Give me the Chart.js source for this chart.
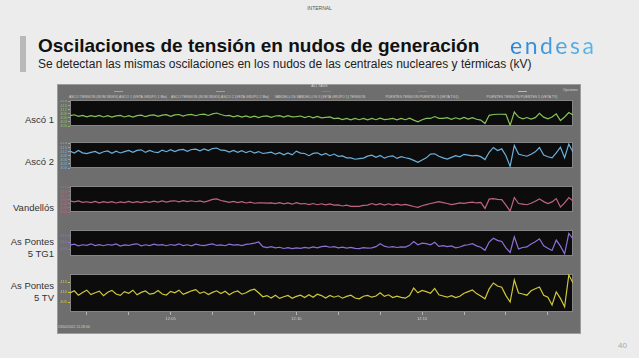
<!DOCTYPE html>
<html>
<head>
<meta charset="utf-8">
<script src="https://cdn.jsdelivr.net/npm/chart.js@4.4.1/dist/chart.umd.min.js"></script>
<style>
  body { margin:0; width:639px; height:358px; background:#ececec; position:relative; overflow:hidden;
         font-family:"Liberation Sans", Arial, sans-serif; }
  .abs { position:absolute; white-space:nowrap; }
  .side { left:0; width:54px; text-align:right; font-size:9.5px; line-height:12px; color:#333; }
  .leg { top:95px; font-size:3.5px; color:#cfcfcf; transform:translateX(-50%); }
  .dash { top:91px; width:9px; height:1px; }
  .panel { position:absolute; left:57px; }
</style>
</head>
<body>

<div class="abs" style="left:0;top:5px;width:639px;text-align:center;font-size:5px;color:#555">INTERNAL</div>
<div class="abs" style="left:20px;top:36px;width:6px;height:36px;background:#b9b9b9"></div>
<div class="abs" style="left:38px;top:35px;font-size:19px;font-weight:bold;color:#111">Oscilaciones de tensión en nudos de generación</div>
<div class="abs" style="left:38px;top:57px;font-size:12px;color:#222">Se detectan las mismas oscilaciones en los nudos de las centrales nucleares y térmicas (kV)</div>
<div class="abs" style="left:510px;top:31px;font-size:23px;font-family:Lato;font-weight:400;letter-spacing:2.5px;
  background:linear-gradient(90deg,#2a82d6,#5ab9ec);-webkit-background-clip:text;background-clip:text;color:transparent">endesa</div>
<div class="abs" style="left:618px;top:341px;font-size:8px;color:#a8a8a8">40</div>

<div class="abs side" style="top:114px">Ascó 1</div>
<div class="abs side" style="top:156px">Ascó 2</div>
<div class="abs side" style="top:202px">Vandellós</div>
<div class="abs side" style="top:236px">As Pontes<br>5 TG1</div>
<div class="abs side" style="top:280px">As Pontes<br>5 TV</div>

<!-- grey frame of the trend viewer -->
<div class="abs" style="left:57px;top:84px;width:522px;height:248px;background:#6e6e6e;border:1px solid #9c9c9c"></div>
<div class="abs" style="left:0;top:84px;width:639px;text-align:center;font-size:3.5px;color:#d8d8d8">ALL TAGS</div>
<div class="abs" style="left:563px;top:88px;font-size:3.5px;color:#d8d8d8">Opciones</div>
<div class="abs" style="left:58px;top:325px;font-size:3.5px;color:#cfcfcf">23/04/2022 11:28:00</div>

<div class="abs dash" style="left:114px;background:#86c25a"></div>
<div class="abs dash" style="left:216px;background:#6cb0dc"></div>
<div class="abs dash" style="left:322px;background:#c0647e"></div>
<div class="abs dash" style="left:418px;background:#8f6fd6"></div>
<div class="abs dash" style="left:518px;background:#cfc83a"></div>
<div class="abs leg" style="left:118px">ASCO TENSION (NOM 380KV) ASCO 1 (VETA GRUPO 1 Mw)</div>
<div class="abs leg" style="left:220px">ASCO TENSION (NOM 380KV) ASCO 2 (VETA GRUPO 2 Mw)</div>
<div class="abs leg" style="left:320px">VANDELLOS VANDELLOS II (VETA GRUPO 1) TENSION</div>
<div class="abs leg" style="left:422px">PUENTES TENSION PUENTES 5 (VETA TG1)</div>
<div class="abs leg" style="left:522px">PUENTES TENSION PUENTES 5 (VETA TV)</div>

<div class="panel" style="top:100px"><canvas id="c1" width="516" height="38"></canvas></div>
<div class="panel" style="top:142px"><canvas id="c2" width="516" height="38"></canvas></div>
<div class="panel" style="top:186px"><canvas id="c3" width="516" height="38"></canvas></div>
<div class="panel" style="top:230px"><canvas id="c4" width="516" height="38"></canvas></div>
<div class="panel" style="top:274px"><canvas id="c5" width="516" height="50"></canvas></div>

<script>
// sample times (s), one every 10 s
var tStart = -40, tStep = 10, nSamples = 121;
var times = [];
for (var i = 0; i < nSamples; i++) times.push(tStart + i * tStep);

var xTicks = [0, 100, 200, 300, 400, 500, 600, 700, 800, 900, 1000, 1100];
var xLabelAt = [200, 500, 800];
var xLabels = ['12:05', '12:10', '12:15'];

var panelNames = ['Ascó 1', 'Ascó 2', 'Vandellós', 'As Pontes 5 TG1', 'As Pontes 5 TV'];

// voltage in kV
var asco1 = [
  407.5, 408.2, 407.0, 407.8, 406.7, 407.5,
  406.9, 407.8, 406.6, 407.5, 406.5, 407.4, 407.7, 406.6,
  407.5, 406.5, 407.6, 407.9, 406.8, 407.7, 408.1, 407.0,
  407.9, 408.3, 407.1, 408.1, 408.4, 407.3, 408.2, 408.5,
  407.5, 408.4, 408.7, 407.7, 408.9, 409.5, 408.4, 407.5,
  407.8, 406.7, 407.6, 406.5, 407.4, 406.3, 407.2, 406.1,
  407.1, 407.4, 406.3, 407.3, 407.6, 406.5, 407.5, 406.7,
  406.9, 407.3, 406.2, 407.1, 406.0, 407.0, 405.9, 406.3,
  406.6, 405.4, 405.7, 404.7, 405.6, 404.5, 405.5, 404.6,
  405.6, 404.5, 405.5, 404.6, 405.7, 404.7, 405.0, 405.5,
  404.5, 405.6, 404.6, 405.7, 404.3, 403.0,
  404.6, 405.6, 405.5, 406.9, 405.6, 405.6,
  406.1, 404.9, 406.0, 405.0, 406.2, 405.1, 406.1, 404.9, 404.3, 401.8,
  407.8, 408.4, 408.6, 408.6, 408.5,
  400.5, 410.2,
  406.5, 405.3, 406.2, 405.0, 406.1,
  409.2, 406.5, 405.3, 406.6, 408.9, 404.0, 406.6, 409.8, 408.0
];
var asco2 = [
  412.3, 410.9, 412.8, 411.1, 410.5, 411.4, 412.1, 410.5,
  411.9, 412.5, 410.7, 412.3, 411.0, 412.0, 412.8, 411.4,
  412.9, 413.3, 411.4, 412.9, 411.7, 411.3, 413.1, 411.9,
  413.4, 412.0, 413.2, 413.6, 412.2, 413.5, 413.8, 412.5,
  414.0, 412.8, 414.2, 414.6, 413.0, 412.9, 411.6, 412.9,
  411.4, 412.7, 411.2, 412.4, 410.9, 412.0, 410.6, 411.0,
  411.6, 410.1, 411.2, 409.7, 411.0, 409.6, 412.3, 410.9,
  410.6, 409.0, 410.7, 411.1, 409.5, 410.6, 409.0, 410.2,
  408.5, 408.8, 407.4, 407.4, 406.4, 406.8, 407.2, 408.7,
  409.4, 407.8, 409.1, 407.2, 408.4, 408.9, 407.0, 408.3,
  407.5, 406.8, 405.6, 404.2, 405.8, 407.4, 410.2, 410.4,
  408.6, 407.4, 406.5, 407.8, 409.0, 408.2, 410.0, 409.4,
  408.8, 409.2, 408.3, 406.2, 411.5, 415.0, 412.8, 414.0,
  409.0, 401.2, 416.5, 410.2, 409.3, 408.6, 410.1, 411.8,
  415.0, 409.5, 408.2, 407.4, 411.0, 415.2, 407.6, 417.5, 411.5
];
var vandellos = [
  408.2, 407.4, 408.1, 407.1, 407.5, 406.8, 407.7, 406.7,
  407.5, 406.8, 407.6, 406.6, 407.4, 406.8, 407.7, 406.9,
  407.6, 406.8, 407.8, 407.0, 407.9, 407.2, 408.1, 407.3,
  408.0, 408.2, 407.4, 408.3, 407.6, 408.2, 407.5, 408.1,
  407.3, 408.1, 409.2, 409.6, 408.4, 407.8, 407.0, 407.7,
  406.8, 407.5, 406.6, 407.2, 406.4, 406.7, 406.6, 406.5,
  406.7, 406.1, 406.8, 405.9, 406.6, 405.7, 406.8, 406.0,
  406.2, 405.4, 406.2, 405.3, 406.0, 405.2, 405.9, 405.0,
  405.2, 404.4, 405.0, 404.1, 404.2, 404.1, 404.8, 405.0,
  406.2, 405.2, 406.1, 405.1, 406.0, 405.0, 405.8, 405.1,
  405.6, 404.8, 404.0, 403.4, 404.6, 405.4, 406.2, 406.8,
  407.6, 406.9, 406.2, 405.4, 406.0, 406.6, 406.3, 406.8,
  407.2, 406.6, 407.0, 402.6, 409.4, 409.8, 409.2, 409.0,
  405.0, 400.6, 410.6, 406.2, 405.8, 405.3, 406.4, 407.8,
  409.6, 407.6, 406.2, 407.4, 409.8, 403.6, 406.6, 410.5, 408.0
];
var pontesTG1 = [
  408.0, 408.6, 407.4, 408.2, 407.8, 408.9, 407.6, 408.3,
  407.5, 408.4, 407.9, 408.8, 407.3, 408.1, 407.7, 408.5,
  408.9, 407.4, 408.2, 407.6, 408.7, 407.9, 408.3, 407.5,
  408.4, 407.8, 408.9, 407.6, 408.2, 407.4, 408.6, 408.0,
  407.6, 408.3, 408.8, 407.7, 408.1, 407.5, 408.6, 407.9,
  408.3, 407.6, 408.5, 408.9, 409.4, 410.2, 406.8, 406.2,
  406.8, 405.9, 406.4, 405.5, 406.1, 405.4, 406.0, 405.6,
  406.3, 405.7, 406.6, 406.0, 406.9, 407.2, 406.4, 406.8,
  406.0, 406.5, 405.8, 406.3, 405.6, 405.4, 406.1, 405.7,
  406.0, 406.8, 409.0, 407.2, 406.4, 406.9, 406.2, 406.6,
  406.5, 407.8, 410.6, 408.2, 409.4, 409.0, 408.2, 410.0,
  407.0, 407.6, 406.8, 407.4, 406.0, 406.6, 407.8, 408.2,
  409.0, 407.4, 406.4, 404.2, 410.2, 413.0, 411.4, 410.6,
  406.0, 402.6, 414.0, 405.2, 406.2, 406.6, 408.8, 410.4,
  412.6, 407.4, 405.6, 404.0, 411.6, 407.2, 401.6, 416.5, 412.5
];
var pontesTV = [
  409.5, 410.6, 408.4, 409.8, 410.9, 408.7, 409.6, 410.4,
  408.2, 409.9, 410.8, 409.0, 408.3, 410.2, 409.4, 410.9,
  408.6, 409.8, 410.5, 408.9, 409.3, 410.7, 409.0, 408.5,
  410.3, 409.6, 410.9, 408.8, 409.7, 410.6, 411.2, 409.3,
  410.1, 408.7, 409.8, 410.6, 409.2, 410.4, 408.6, 409.9,
  410.5, 408.9, 409.6, 410.8, 411.4, 409.6, 407.6, 408.2,
  407.0, 408.4, 406.8, 407.6, 408.3, 406.9, 407.8, 408.4,
  407.2, 408.6, 407.4, 408.9, 408.2, 407.0, 408.3, 407.4,
  408.1, 406.9, 407.8, 408.4, 407.0, 406.6, 407.9, 408.3,
  407.4, 408.0, 409.6, 407.8, 408.6, 407.2, 407.9, 407.3,
  406.9, 408.2, 412.0, 409.6, 410.8, 410.2, 409.4, 411.8,
  408.6, 408.0, 407.4, 408.2, 407.2, 407.9, 409.4, 410.2,
  411.0, 409.2, 408.0, 406.6, 411.6, 414.5, 413.0, 412.4,
  408.2, 405.0, 416.0, 409.5, 409.0, 408.4, 410.6, 411.6,
  412.5, 408.4, 407.4, 403.5, 410.0, 406.8, 402.6, 418.5, 414.5
];

var yTicksFine = [400, 403, 406, 409, 412, 415, 418];
var yTicksCoarse = [405, 410, 415];

// black plot area with a thin grey rim
var panelBg = {
  id: 'panelBg',
  beforeDraw: function(chart) {
    var a = chart.chartArea, ctx = chart.ctx;
    ctx.save();
    ctx.fillStyle = '#0c0c0c';
    ctx.fillRect(a.left, a.top, a.right - a.left, a.bottom - a.top);
    ctx.strokeStyle = '#858585';
    ctx.lineWidth = 1;
    ctx.strokeRect(a.left + 0.5, a.top + 0.5, a.right - a.left - 1, a.bottom - a.top - 1);
    ctx.restore();
  }
};

function makePanel(id, name, values, color, yTicks, showX) {
  var pts = values.map(function(v, i) { return { x: times[i], y: v }; });
  new Chart(document.getElementById(id), {
    type: 'line',
    data: { datasets: [{ label: name, data: pts, borderColor: color, borderWidth: 1.2,
                         pointRadius: 0, tension: 0, fill: false }] },
    options: {
      responsive: false,
      animation: false,
      layout: { padding: 0 },
      plugins: { legend: { display: false }, tooltip: { enabled: false } },
      scales: {
        x: {
          type: 'linear', min: -40, max: 1160, display: showX,
          afterBuildTicks: function(s) { s.ticks = xTicks.map(function(v) { return { value: v }; }); },
          ticks: {
            autoSkip: false, maxRotation: 0, padding: 1, color: '#d4d4d4', font: { size: 4 },
            callback: function(v) { var k = xLabelAt.indexOf(v); return k >= 0 ? xLabels[k] : ''; }
          },
          grid: { drawOnChartArea: false, tickLength: 3, color: '#b4b4b4' },
          border: { display: false },
          afterFit: function(s) { s.height = 12; s.paddingLeft = 0; s.paddingRight = 0; }
        },
        y: {
          min: 400, max: 419,
          afterBuildTicks: function(s) { s.ticks = yTicks.map(function(v) { return { value: v }; }); },
          ticks: { autoSkip: false, padding: 1, color: color, font: { size: 4 } },
          grid: { drawOnChartArea: false, tickLength: 2, color: color },
          border: { display: false },
          afterFit: function(s) { s.width = 13; s.paddingTop = 0; s.paddingBottom = 0; }
        }
      }
    },
    plugins: [panelBg]
  });
}

makePanel('c1', panelNames[0], asco1, '#86c25a', yTicksFine, false);
makePanel('c2', panelNames[1], asco2, '#6cb0dc', yTicksFine, false);
makePanel('c3', panelNames[2], vandellos, '#c0647e', yTicksFine, false);
makePanel('c4', panelNames[3], pontesTG1, '#8f6fd6', yTicksCoarse, false);
makePanel('c5', panelNames[4], pontesTV, '#cfc83a', yTicksCoarse, true);
</script>
</body>
</html>
